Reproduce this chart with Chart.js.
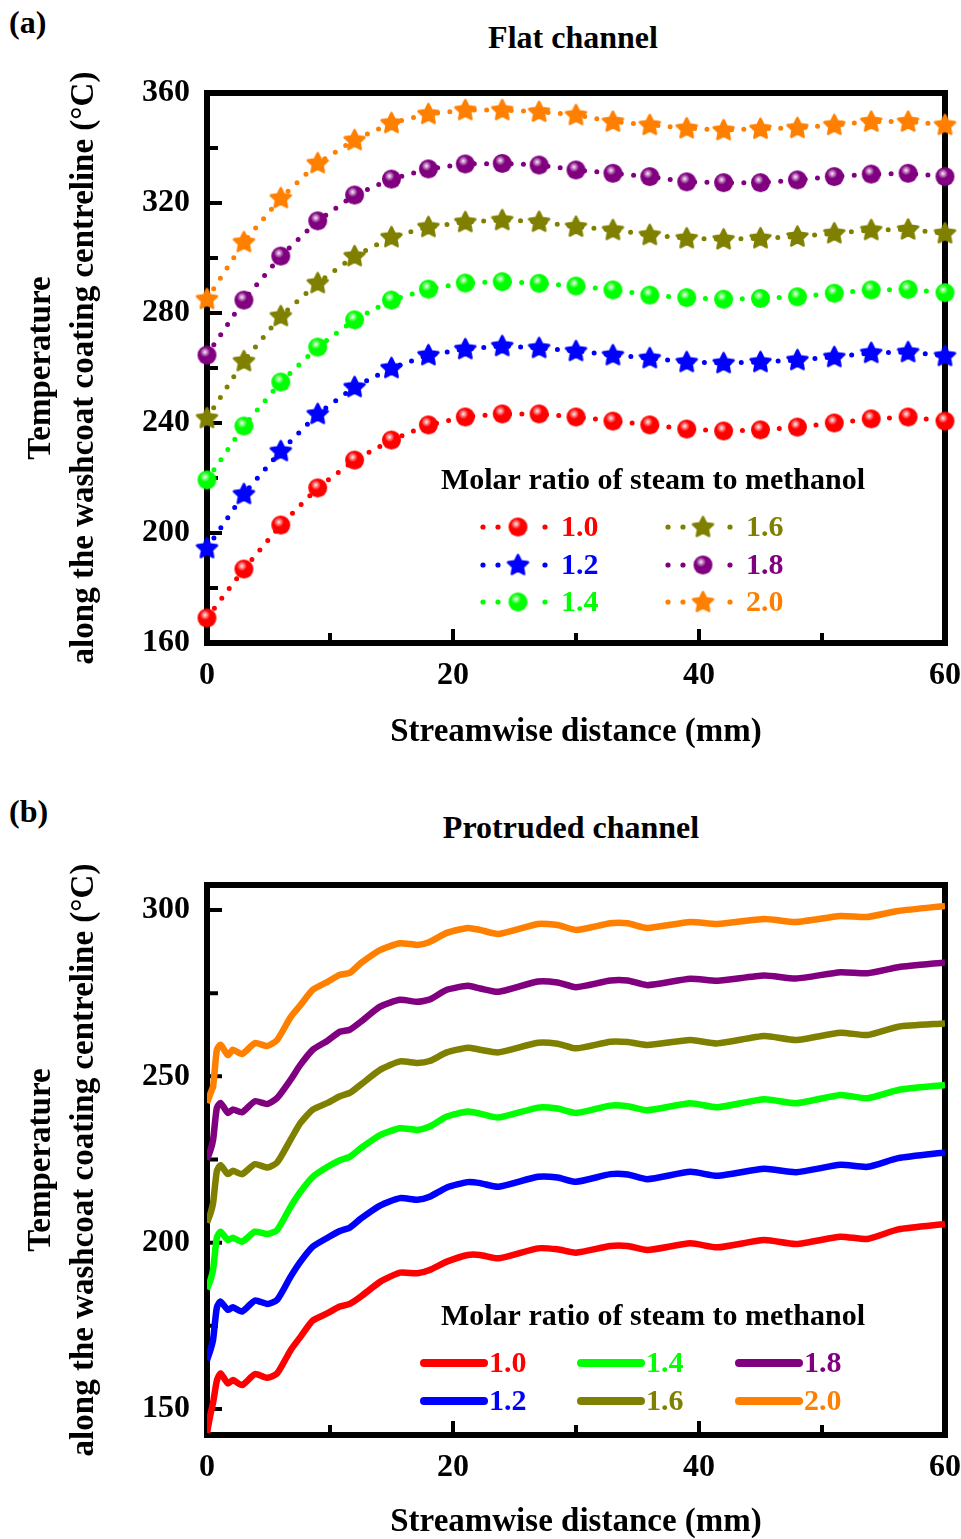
<!DOCTYPE html>
<html>
<head>
<meta charset="utf-8">
<script src="https://cdn.jsdelivr.net/npm/chart.js@4.4.1/dist/chart.umd.min.js"></script>
<style>
  body { margin: 0; background: #fff; width: 961px; height: 1539px; position: relative; overflow: hidden; }
  .lbl { position: absolute; font: bold 32px "Liberation Serif", "Times New Roman", serif; line-height: 32px; color: #000; white-space: nowrap; }
  .ttl { transform: translateX(-50%); }
  #wrapA { position: absolute; left: 0; top: 0; width: 961px; height: 770px; }
  #wrapB { position: absolute; left: 0; top: 770px; width: 961px; height: 769px; }
</style>
</head>
<body>
<div class="lbl" style="left:9px;top:6px">(a)</div>
<div class="lbl ttl" style="left:573px;top:21px">Flat channel</div>
<div class="lbl" style="left:9px;top:795px">(b)</div>
<div class="lbl ttl" style="left:571px;top:811px">Protruded channel</div>
<div id="wrapA"><canvas id="flatChart" width="961" height="770"></canvas></div>
<div id="wrapB"><canvas id="protChart" width="961" height="769"></canvas></div>
<script>
// series names and colours
const ratios = ["1.0", "1.2", "1.4", "1.6", "1.8", "2.0"];
const colors = ["#ff0000", "#0000ff", "#00ff00", "#808000", "#800080", "#ff8000"];

// (a) flat channel, markers every 3 mm
const xFlat = [0, 3, 6, 9, 12, 15, 18, 21, 24, 27, 30, 33, 36, 39, 42, 45, 48, 51, 54, 57, 60];
const flat10 = [169.1, 186.9, 202.9, 216.4, 226.5, 233.8, 239.3, 242.2, 243.3, 243.3, 242.2, 240.7, 239.3, 237.8, 237.1, 237.5, 238.5, 240.0, 241.5, 242.2, 240.7];
const flat12 = [194.5, 214.2, 229.8, 243.3, 253.1, 260.0, 264.7, 266.9, 268.0, 267.3, 266.2, 264.7, 263.6, 262.2, 261.8, 262.2, 262.9, 264.0, 265.5, 265.8, 264.4];
const flat14 = [219.3, 238.9, 254.9, 267.6, 277.5, 284.7, 288.7, 290.9, 291.4, 290.8, 289.8, 288.4, 286.5, 285.6, 285.0, 285.3, 285.9, 287.2, 288.4, 288.6, 287.4];
const flat16 = [241.8, 262.5, 278.9, 290.9, 300.7, 307.6, 311.3, 313.1, 313.8, 313.2, 311.4, 310.2, 308.4, 307.2, 306.8, 307.2, 307.8, 309.0, 310.2, 310.4, 309.0];
const flat18 = [264.7, 284.7, 300.7, 313.5, 322.9, 328.7, 332.4, 334.2, 334.4, 333.8, 332.0, 330.8, 329.6, 327.7, 327.4, 327.4, 328.4, 329.6, 330.5, 330.8, 329.6];
const flat20 = [285.1, 305.8, 321.8, 334.5, 342.9, 349.1, 352.4, 353.8, 353.8, 353.2, 352.0, 349.6, 348.4, 347.2, 346.5, 347.0, 347.3, 348.4, 349.6, 349.6, 348.4];

// (b) protruded channel
const xProt = [0, 0.3, 0.5, 0.8, 1.1, 1.7, 2.1, 2.85, 3.9, 4.9, 5.7, 6.8, 7.6, 8.6, 9.8, 10.8, 11.6, 12.5, 14.1, 15.7, 17.1, 18.1, 19.5, 21.2, 22.2, 23.7, 26.9, 28.5, 30, 32.8, 34.2, 35.8, 39.3, 41.5, 45.3, 47.9, 51.5, 53.7, 56.2, 60];
const prot10 = [142.8, 148.8, 152.0, 158.5, 160.7, 157.7, 158.7, 157.2, 160.5, 159.4, 160.7, 167.7, 171.7, 176.6, 178.8, 180.8, 181.6, 183.8, 188.3, 191.0, 190.8, 191.8, 194.3, 196.3, 196.3, 195.3, 198.3, 198.0, 197.0, 199.0, 199.0, 197.8, 199.8, 198.6, 200.8, 199.6, 201.8, 201.1, 204.0, 205.6];
const prot12 = [164.7, 168.0, 171.0, 180.5, 182.3, 179.8, 180.6, 179.3, 182.6, 181.6, 182.8, 189.8, 194.3, 198.8, 201.5, 203.5, 204.5, 207.2, 211.2, 213.4, 212.9, 213.8, 216.6, 218.2, 217.9, 216.8, 219.8, 219.6, 218.3, 220.6, 220.5, 219.1, 221.3, 220.1, 222.2, 221.2, 223.4, 222.8, 225.4, 227.1];
const prot14 = [186.0, 189.0, 192.0, 201.5, 203.3, 200.8, 201.5, 200.3, 203.3, 202.6, 203.8, 210.8, 215.3, 219.8, 222.8, 224.8, 225.8, 228.4, 232.4, 234.4, 233.9, 234.9, 237.9, 239.4, 238.8, 237.6, 240.6, 240.3, 239.0, 241.2, 241.0, 239.8, 241.9, 240.7, 243.1, 241.9, 244.4, 243.4, 245.9, 247.4];
const prot16 = [206.0, 209.0, 212.0, 221.5, 223.3, 220.6, 221.6, 220.6, 223.6, 222.6, 224.1, 231.0, 236.0, 240.0, 242.0, 244.0, 245.0, 247.5, 252.0, 254.5, 254.0, 254.6, 257.2, 258.6, 258.0, 257.2, 260.1, 259.8, 258.4, 260.4, 260.3, 259.4, 260.9, 259.9, 262.1, 260.9, 263.1, 262.4, 264.9, 265.9];
const prot18 = [225.0, 228.0, 231.0, 240.5, 242.0, 239.0, 240.0, 239.2, 242.5, 241.7, 243.5, 249.0, 253.5, 258.0, 260.7, 263.4, 264.0, 266.4, 271.0, 273.0, 272.4, 273.1, 276.0, 277.2, 276.4, 275.4, 278.5, 278.2, 276.8, 278.8, 278.8, 277.4, 279.3, 278.7, 280.3, 279.4, 281.3, 281.0, 282.8, 284.2];
const prot20 = [242.0, 245.0, 247.0, 258.0, 259.5, 256.4, 258.0, 256.7, 260.0, 259.1, 260.9, 267.8, 271.4, 276.0, 278.4, 280.5, 281.1, 284.0, 288.0, 290.0, 289.5, 290.4, 293.1, 294.6, 294.0, 292.8, 295.8, 295.5, 294.0, 296.0, 296.0, 294.6, 296.4, 295.8, 297.3, 296.4, 298.2, 297.9, 299.7, 301.2];

// tick values
const xMajor = [0, 20, 40, 60];
const xMinor = [10, 30, 50];
const yMajorA = [160, 200, 240, 280, 320, 360];
const yMinorA = [180, 220, 260, 300, 340];
const yMajorB = [150, 200, 250, 300];
const yMinorB = [175, 225, 275];

const FONT = '"Liberation Serif", "Times New Roman", serif';

// marker images
function sphere(color) {
    const c = document.createElement("canvas");
    c.width = c.height = 21;
    const g = c.getContext("2d");
    g.fillStyle = color;
    g.beginPath(); g.arc(10.5, 10.5, 9.5, 0, 2 * Math.PI); g.fill();
    const gr = g.createRadialGradient(8.5, 7.5, 0, 8.5, 7.5, 5);
    gr.addColorStop(0, "rgba(255,255,255,0.95)");
    gr.addColorStop(1, "rgba(255,255,255,0)");
    g.fillStyle = gr;
    g.beginPath(); g.arc(10.5, 10.5, 9.5, 0, 2 * Math.PI); g.fill();
    return c;
}
function star(color) {
    const c = document.createElement("canvas");
    c.width = c.height = 25;
    const g = c.getContext("2d");
    g.fillStyle = color; g.strokeStyle = color;
    g.lineWidth = 2.5; g.lineJoin = "round";
    g.beginPath();
    for (let k = 0; k < 10; k++) {
        const r = k % 2 === 0 ? 10.5 : 5.2;
        const a = -Math.PI / 2 + k * Math.PI / 5;
        const px = 12.5 + r * Math.cos(a), py = 13 + r * Math.sin(a);
        k === 0 ? g.moveTo(px, py) : g.lineTo(px, py);
    }
    g.closePath(); g.fill(); g.stroke();
    return c;
}

// frame + inward ticks, drawn under the data
const frameTicks = {
    id: "frameTicks",
    beforeDatasetsDraw(chart, args, o) {
        const { ctx, chartArea: a, scales: { x, y } } = chart;
        ctx.save();
        ctx.strokeStyle = "#000";
        ctx.lineWidth = 4;
        ctx.beginPath();
        o.xMajor.forEach(v => { const p = x.getPixelForValue(v); ctx.moveTo(p, a.bottom); ctx.lineTo(p, a.bottom - 14); });
        o.xMinor.forEach(v => { const p = x.getPixelForValue(v); ctx.moveTo(p, a.bottom); ctx.lineTo(p, a.bottom - 10); });
        o.yMajor.forEach(v => { const p = y.getPixelForValue(v); ctx.moveTo(a.left, p); ctx.lineTo(a.left + 15, p); });
        o.yMinor.forEach(v => { const p = y.getPixelForValue(v); ctx.moveTo(a.left, p); ctx.lineTo(a.left + 11, p); });
        ctx.stroke();
        ctx.lineWidth = 6;
        ctx.strokeRect(a.left, a.top, a.right - a.left, a.bottom - a.top);
        ctx.restore();
    }
};

// legend inside the plot
const legendBox = {
    id: "legendBox",
    afterDatasetsDraw(chart, args, o) {
        const ctx = chart.ctx;
        ctx.save();
        ctx.font = "bold 30px " + FONT;
        ctx.fillStyle = "#000";
        ctx.textAlign = "center";
        ctx.textBaseline = "middle";
        ctx.fillText(o.title, o.titleX, o.titleY);
        ctx.textAlign = "left";
        chart.data.datasets.forEach((ds, i) => {
            const x = o.colX[Math.floor(i / o.perCol)];
            const y = o.rowY[i % o.perCol];
            ctx.fillStyle = ds.borderColor;
            if (o.dotted) {
                [2, 17, 64].forEach(dx => { ctx.beginPath(); ctx.arc(x + dx, y, 2.6, 0, 2 * Math.PI); ctx.fill(); });
                const img = ds.pointStyle;
                ctx.drawImage(img, x + 37 - img.width / 2, y - img.height / 2);
                ctx.fillText(ds.label, x + 80, y + 1);
            } else {
                ctx.strokeStyle = ds.borderColor;
                ctx.lineWidth = 8;
                ctx.lineCap = "round";
                ctx.beginPath(); ctx.moveTo(x + 4, y); ctx.lineTo(x + 64, y); ctx.stroke();
                ctx.fillText(ds.label, x + 69, y + 1);
            }
        });
        ctx.restore();
    }
};

function setTicks(list) {
    return scale => { scale.ticks = list.map(v => ({ value: v })); };
}

function axes(yMin, yMax, yMajor, xHeight, xPadBottom) {
    return {
        x: {
            type: "linear", min: 0, max: 60,
            afterBuildTicks: setTicks(xMajor),
            afterFit: s => { s.height = xHeight; s.paddingLeft = 0; s.paddingRight = 0; },
            grid: { display: false, drawTicks: false },
            border: { display: false },
            ticks: { color: "#000", padding: 14, font: { family: FONT, size: 32, weight: "bold" } },
            title: {
                display: true, text: "Streamwise distance (mm)", color: "#000",
                padding: { top: 0, bottom: xPadBottom },
                font: { family: FONT, size: 33, weight: "bold", lineHeight: 1 }
            }
        },
        y: {
            type: "linear", min: yMin, max: yMax,
            afterBuildTicks: setTicks(yMajor),
            afterFit: s => { s.width = 207; s.paddingTop = 0; s.paddingBottom = 0; },
            grid: { display: false, drawTicks: false },
            border: { display: false },
            ticks: { color: "#000", padding: 17, font: { family: FONT, size: 32, weight: "bold" } },
            title: {
                display: true, color: "#000",
                text: ["Temperature", "along the washcoat coating centreline (\u00B0C)"],
                padding: { top: 20, bottom: 0 },
                font: { family: FONT, size: 33, weight: "bold", lineHeight: 1.31 }
            }
        }
    };
}

// (a)
const flatSeries = [flat10, flat12, flat14, flat16, flat18, flat20];
new Chart(document.getElementById("flatChart"), {
    type: "line",
    data: {
        labels: xFlat,
        datasets: flatSeries.map((s, i) => ({
            label: ratios[i],
            data: s.map((v, k) => ({ x: xFlat[k], y: v })),
            borderColor: colors[i],
            backgroundColor: colors[i],
            borderWidth: 5,
            borderDash: [0, 12.3],
            borderCapStyle: "round",
            pointStyle: i % 2 === 0 ? sphere(colors[i]) : star(colors[i]),
            clip: false,
            tension: 0
        }))
    },
    options: {
        responsive: false,
        animation: false,
        layout: { padding: { top: 93, right: 16, left: 0, bottom: 0 } },
        scales: axes(160, 360, yMajorA, 127, 21),
        plugins: {
            legend: { display: false },
            tooltip: { enabled: false },
            frameTicks: { xMajor, xMinor, yMajor: yMajorA, yMinor: yMinorA },
            legendBox: {
                title: "Molar ratio of steam to methanol", titleX: 653, titleY: 481,
                colX: [481, 666], rowY: [527, 565, 602], perCol: 3, dotted: true
            }
        }
    },
    plugins: [frameTicks, legendBox]
});

// (b)
const protSeries = [prot10, prot12, prot14, prot16, prot18, prot20];
new Chart(document.getElementById("protChart"), {
    type: "line",
    data: {
        labels: xProt,
        datasets: protSeries.map((s, i) => ({
            label: ratios[i],
            data: s.map((v, k) => ({ x: xProt[k], y: v })),
            borderColor: colors[i],
            backgroundColor: colors[i],
            borderWidth: 6.5,
            borderJoinStyle: "round",
            pointRadius: 0,
            tension: 0.2
        }))
    },
    options: {
        responsive: false,
        animation: false,
        layout: { padding: { top: 115, right: 16, left: 0, bottom: 0 } },
        scales: axes(142.2, 307.5, yMajorB, 104, 0),
        plugins: {
            legend: { display: false },
            tooltip: { enabled: false },
            frameTicks: { xMajor, xMinor, yMajor: yMajorB, yMinor: yMinorB },
            legendBox: {
                title: "Molar ratio of steam to methanol", titleX: 653, titleY: 547,
                colX: [420, 577, 735], rowY: [593, 631], perCol: 2, dotted: false
            }
        }
    },
    plugins: [frameTicks, legendBox]
});
</script>
</body>
</html>
